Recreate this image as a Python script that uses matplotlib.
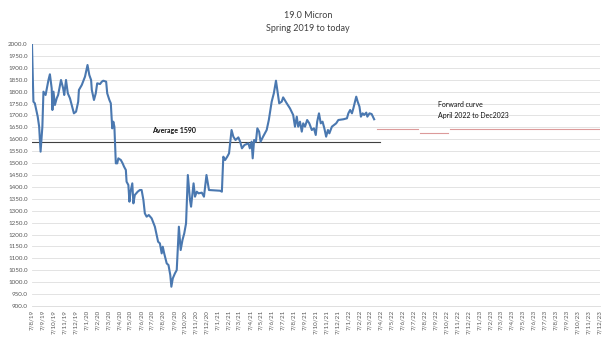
import pandas as pd
import matplotlib.pyplot as plt

# --- data -----------------------------------------------------------------
hist_dates = [
    "2019-08-07", "2019-08-11", "2019-08-15", "2019-08-23", "2019-08-27", "2019-08-31",
    "2019-09-05", "2019-09-08", "2019-09-14", "2019-09-22", "2019-09-26", "2019-10-01",
    "2019-10-03", "2019-10-06", "2019-10-10", "2019-10-15", "2019-10-19", "2019-10-27",
    "2019-11-02", "2019-11-05", "2019-11-10", "2019-11-15", "2019-11-21", "2019-11-26",
    "2019-12-02", "2019-12-08", "2019-12-14", "2019-12-16", "2019-12-24", "2020-01-02",
    "2020-01-09", "2020-01-14", "2020-01-19", "2020-01-21", "2020-01-27", "2020-02-01",
    "2020-02-05", "2020-02-13", "2020-02-18", "2020-02-22", "2020-03-01", "2020-03-04",
    "2020-03-10", "2020-03-14", "2020-03-18", "2020-03-21", "2020-03-24", "2020-03-28",
    "2020-04-01", "2020-04-04", "2020-04-11", "2020-04-16", "2020-04-20", "2020-04-25",
    "2020-04-27", "2020-05-02", "2020-05-05", "2020-05-08", "2020-05-13", "2020-05-16",
    "2020-05-20", "2020-05-28", "2020-06-03", "2020-06-08", "2020-06-13", "2020-06-17",
    "2020-06-22", "2020-06-28", "2020-07-06", "2020-07-15", "2020-07-24", "2020-07-29",
    "2020-08-03", "2020-08-06", "2020-08-10", "2020-08-17", "2020-08-22", "2020-08-27",
    "2020-08-30", "2020-09-03", "2020-09-09", "2020-09-14", "2020-09-20", "2020-09-25",
    "2020-09-30", "2020-10-05", "2020-10-10", "2020-10-15", "2020-10-21", "2020-10-24",
    "2020-10-31", "2020-11-04", "2020-11-09", "2020-11-14", "2020-11-23", "2020-11-29",
    "2020-12-06", "2020-12-13", "2021-01-13", "2021-01-18", "2021-01-22", "2021-01-27",
    "2021-02-02", "2021-02-07", "2021-02-14", "2021-02-19", "2021-02-25", "2021-03-05",
    "2021-03-10", "2021-03-15", "2021-03-22", "2021-04-02", "2021-04-06", "2021-04-11",
    "2021-04-14", "2021-04-18", "2021-04-23", "2021-04-27", "2021-05-02", "2021-05-06",
    "2021-05-13", "2021-05-23", "2021-05-29", "2021-06-06", "2021-06-12", "2021-06-18",
    "2021-06-23", "2021-06-27", "2021-07-04", "2021-07-08", "2021-07-18", "2021-07-27",
    "2021-08-05", "2021-08-10", "2021-08-15", "2021-08-19", "2021-08-24", "2021-08-29",
    "2021-09-02", "2021-09-07", "2021-09-13", "2021-09-19", "2021-09-26", "2021-10-02",
    "2021-10-07", "2021-10-11", "2021-10-16", "2021-10-21", "2021-10-26", "2021-10-31",
    "2021-11-05", "2021-11-10", "2021-11-14", "2021-11-21", "2021-11-27", "2021-12-03",
    "2021-12-09", "2021-12-23", "2022-01-02", "2022-01-06", "2022-01-11", "2022-01-16",
    "2022-01-20", "2022-01-28", "2022-02-01", "2022-02-06", "2022-02-10", "2022-02-15",
    "2022-02-19", "2022-02-25", "2022-02-28", "2022-03-06", "2022-03-12", "2022-03-19",
]
hist_price = [
    2000, 1758, 1751, 1695, 1653, 1548,
    1653, 1800, 1786, 1849, 1873, 1814,
    1723, 1800, 1744, 1772, 1786, 1849,
    1814, 1786, 1849, 1793, 1772, 1744,
    1709, 1716, 1758, 1807, 1828, 1863,
    1912, 1870, 1849, 1807, 1765, 1793,
    1835, 1832, 1842, 1846, 1842, 1793,
    1765, 1751, 1646, 1674, 1653, 1499,
    1499, 1520, 1513, 1499, 1485, 1471,
    1422, 1408, 1338, 1380, 1415, 1331,
    1366, 1380, 1387, 1387, 1345, 1289,
    1275, 1282, 1268, 1233, 1170, 1163,
    1121, 1149, 1121, 1079, 1072, 1030,
    981, 1016, 1037, 1051, 1233, 1135,
    1177, 1205, 1247, 1450, 1345, 1317,
    1415, 1359, 1380, 1373, 1376, 1359,
    1450, 1387, 1384, 1380, 1527, 1513,
    1527, 1541, 1639, 1611, 1597, 1608,
    1590, 1562, 1576, 1583, 1562, 1590,
    1520, 1597, 1590, 1646, 1632, 1590,
    1611, 1639, 1681, 1758, 1793, 1846,
    1793, 1751, 1758, 1776, 1751, 1730,
    1702, 1653, 1695, 1653, 1674, 1632,
    1667, 1653, 1681, 1667, 1639, 1646,
    1618, 1674, 1709, 1667, 1674, 1646,
    1611, 1639, 1625, 1653, 1660, 1667,
    1681, 1684, 1688, 1709, 1723, 1709,
    1730, 1779, 1758, 1737, 1695, 1709,
    1702, 1712, 1695, 1709, 1706, 1684,
]

# forward curve, three pieces with small gaps between them
fwd_dates_1 = ["2022-03-26", "2022-07-20"]
fwd_price_1 = [1645, 1645]
fwd_dates_2 = ["2022-07-26", "2022-10-12"]
fwd_price_2 = [1625, 1625]
fwd_dates_3 = ["2022-10-17", "2023-12-08"]
fwd_price_3 = [1645, 1645]

avg_value = 1590
avg_dates = ["2019-08-07", "2022-04-05"]

# month ticks on the 7th, Aug 2019 .. Dec 2023
tick_dates = pd.date_range("2019-08-01", "2023-12-01", freq="MS") + pd.Timedelta(days=6)

# --- plot -----------------------------------------------------------------
plt.rcParams['font.family'] = ['Lato', 'DejaVu Sans']

fig = plt.figure(figsize=(6.15, 3.55), dpi=100)
ax = fig.add_axes([0.052, 0.138, 0.924, 0.738])

ax.plot(pd.to_datetime(hist_dates), hist_price, color='#4a78b0', lw=1.5, zorder=3)

fwd_color = '#dc9a9a'
for d, p in [(fwd_dates_1, fwd_price_1), (fwd_dates_2, fwd_price_2), (fwd_dates_3, fwd_price_3)]:
    ax.plot(pd.to_datetime(d), p, color=fwd_color, lw=0.8, zorder=2)

ax.plot(pd.to_datetime(avg_dates), [avg_value] * 2, color='#404040', lw=0.8, zorder=2)

ax.text(pd.Timestamp("2020-07-07"), 1635, f"Average {avg_value}", fontsize=5,
        fontweight='bold', va='center', ha='left', color='#111111')
ax.text(pd.Timestamp("2022-09-14"), 1723, "Forward curve\nApril 2022 to Dec2023",
        fontsize=5, va='center', ha='left', color='#111111', linespacing=1.6)

# axes
ax.set_ylim(900, 2000)
ax.set_yticks(range(900, 2001, 50))
ax.yaxis.set_major_formatter(plt.FuncFormatter(lambda v, _: f"{v:.1f}"))
ax.set_xlim(pd.Timestamp("2019-08-07"), pd.Timestamp("2023-12-10"))
ax.set_xticks(tick_dates)
ax.set_xticklabels([f"{d.day}/{d.month}/{d.year % 100}" for d in tick_dates], rotation=90)

ax.tick_params(axis='both', length=0, labelsize=4.5, labelcolor='#595959', pad=3)
ax.grid(axis='y', color='#dedede', lw=0.6)
ax.set_axisbelow(True)
for s in ['top', 'right', 'left']:
    ax.spines[s].set_visible(False)
ax.spines['bottom'].set_color('#d9d9d9')
ax.spines['bottom'].set_linewidth(0.6)

fig.text(0.501, 0.955, "19.0 Micron", ha='center', va='center', fontsize=6.5, color='#404040')
fig.text(0.501, 0.921, "Spring 2019 to today", ha='center', va='center', fontsize=6.5, color='#404040')

fig.savefig("out.png", dpi=100)
